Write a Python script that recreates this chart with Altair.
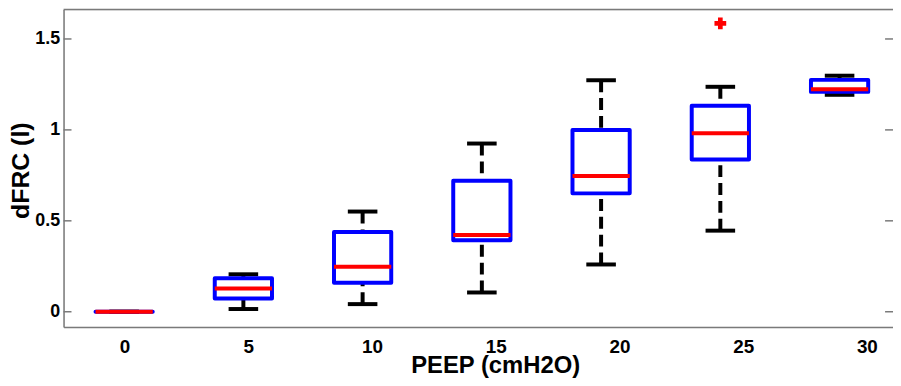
import altair as alt
import pandas as pd

# ---- data ----
peep = [0, 5, 10, 15, 20, 25, 30]
whisker_lo = [0.0, 0.015, 0.042, 0.106, 0.260, 0.446, 1.193]
q1 = [0.0, 0.073, 0.160, 0.393, 0.651, 0.837, 1.209]
median = [0.0, 0.128, 0.248, 0.422, 0.746, 0.982, 1.224]
q3 = [0.0, 0.184, 0.439, 0.720, 1.000, 1.133, 1.275]
whisker_hi = [0.0, 0.206, 0.551, 0.925, 1.273, 1.237, 1.298]
outlier_peep = [25]
outlier_val = [1.586]
ytick_values = [0, 0.5, 1, 1.5]
xtick_labels = ["0", "5", "10", "15", "20", "25", "30"]

df = pd.DataFrame({"peep": peep, "wlo": whisker_lo, "q1": q1, "med": median,
                   "q3": q3, "whi": whisker_hi, "lab": xtick_labels})
out_df = pd.DataFrame({"peep": outlier_peep, "v": outlier_val})
tick_df = pd.DataFrame({"v": ytick_values})

W, H = 836, 320
FONT = "Liberation Sans"
GRAY = "#7a7a7a"
BOX_HALF = 1.2
CAP_HALF = 0.62
LABEL_STRETCH = 1.0375

xscale = alt.Scale(domain=[-2.54, 32.24], nice=False, zero=False)
yscale = alt.Scale(domain=[-0.0835, 1.6623], nice=False, zero=False)

xaxis = alt.Axis(labels=False, ticks=False, grid=False, domain=True,
                 domainColor=GRAY, domainWidth=1.5,
                 title="PEEP (cmH2O)", titleFont=FONT, titleFontSize=24,
                 titleFontWeight="bold", titleColor="black",
                 titleX=435, titleY=46, titleAlign="center",
                 titleBaseline="alphabetic")
yaxis = alt.Axis(values=ytick_values, format="~g", ticks=False, grid=False,
                 domain=True, domainColor=GRAY, domainWidth=1.5,
                 labelFont=FONT, labelFontSize=18, labelFontWeight="bold",
                 labelColor="black", labelPadding=4,
                 title="dFRC (l)", titleFont=FONT, titleFontSize=25,
                 titleFontWeight="bold", titleColor="black",
                 titleX=-43, titleY=162, titleAngle=270,
                 titleAlign="center", titleBaseline="middle")

base = alt.Chart(df).transform_calculate(
    blo=f"datum.peep - {BOX_HALF}", bhi=f"datum.peep + {BOX_HALF}",
    clo=f"datum.peep - {CAP_HALF}", chi=f"datum.peep + {CAP_HALF}",
    lx=f"datum.peep * {LABEL_STRETCH} + 0.04",
)

X = lambda f: alt.X(f, type="quantitative", scale=xscale, axis=xaxis)
Y = lambda f: alt.Y(f, type="quantitative", scale=yscale, axis=yaxis)

whisk_up = base.mark_rule(color="black", strokeWidth=4, strokeDash=[12, 6]).encode(
    x=X("peep"), y=Y("whi"), y2="q3")
whisk_dn = base.mark_rule(color="black", strokeWidth=4, strokeDash=[12, 6]).encode(
    x=X("peep"), y=Y("wlo"), y2="q1")
cap_up = base.mark_rule(color="black", strokeWidth=4).encode(
    x=X("clo:Q"), x2="chi:Q", y=Y("whi"))
cap_dn = base.mark_rule(color="black", strokeWidth=4).encode(
    x=X("clo:Q"), x2="chi:Q", y=Y("wlo"))
box = base.mark_rect(stroke="#0000ff", strokeWidth=4, fillOpacity=0,
                     strokeJoin="round").encode(
    x=X("blo:Q"), x2="bhi:Q", y=Y("q1"), y2="q3")
med = base.mark_rule(color="#ff0000", strokeWidth=4).encode(
    x=X("blo:Q"), x2="bhi:Q", y=Y("med"))
outl = alt.Chart(out_df).mark_point(shape="cross", filled=True, color="#ff0000",
                                    size=140, opacity=1).encode(
    x=X("peep"), y=Y("v"))
xlabels = base.mark_text(font=FONT, fontSize=19, fontWeight="bold", color="black",
                         baseline="alphabetic", align="center").encode(
    x=X("lx:Q"), y=alt.value(346), text="lab:N")
lticks = alt.Chart(tick_df).mark_rule(color=GRAY, strokeWidth=1.5).encode(
    x=alt.value(0), x2=alt.value(8), y=Y("v"))
rticks = alt.Chart(tick_df).mark_rule(color=GRAY, strokeWidth=1.5).encode(
    x=alt.value(W - 8), x2=alt.value(W), y=Y("v"))
top = alt.Chart(tick_df.head(1)).mark_rule(color=GRAY, strokeWidth=1.5).encode(
    x=alt.value(0), x2=alt.value(W), y=alt.value(0))

chart = alt.layer(
    whisk_up, whisk_dn, cap_up, cap_dn, box, med, outl, xlabels, lticks, rticks, top
).properties(
    width=W, height=H,
    autosize=alt.AutoSizeParams(type="none"),
    padding={"left": 56, "top": 0, "right": 0, "bottom": 50},
).configure_view(strokeWidth=0).configure(background="white")

chart.save("out.html", embed_options={"renderer": "svg", "actions": False})
